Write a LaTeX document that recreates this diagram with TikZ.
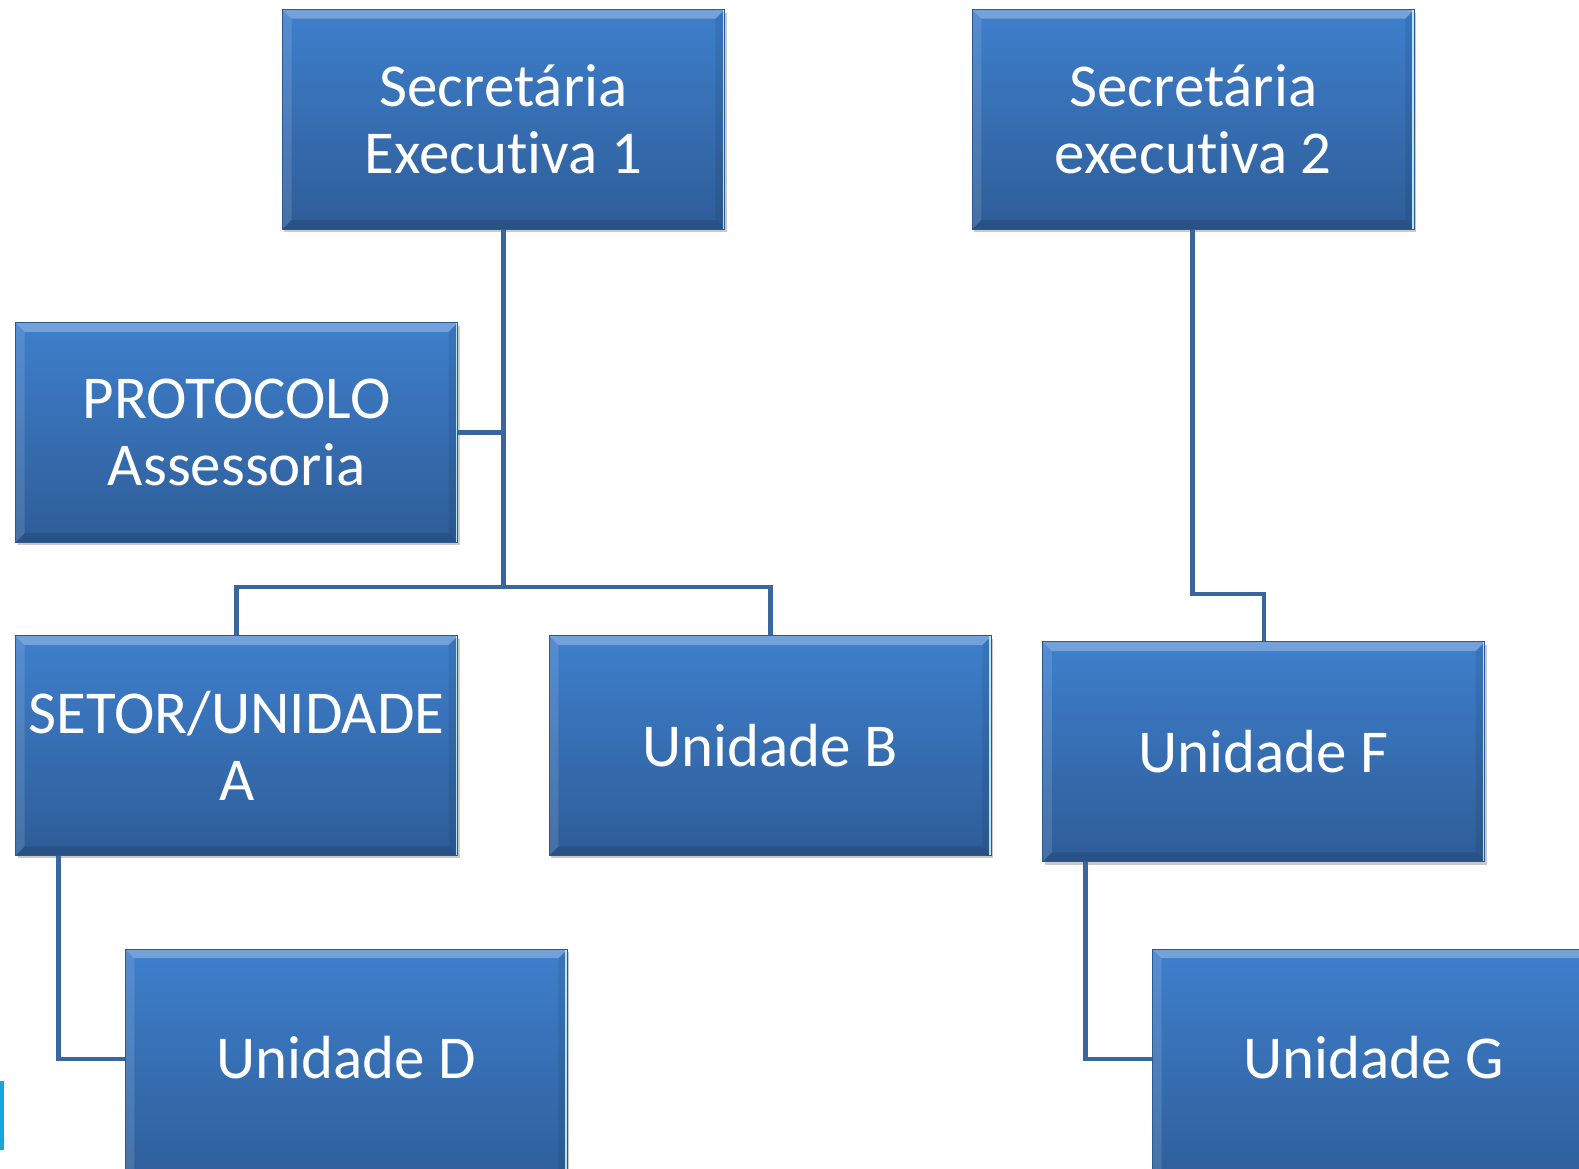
\documentclass[tikz,border=0pt]{standalone}
\usepackage{fontspec}
\setmainfont[RawFeature={-liga;-dlig}]{Carlito}
\usetikzlibrary{shadows}
\definecolor{boxtop}{RGB}{62,127,204}
\definecolor{boxbot}{RGB}{46,93,152}
\definecolor{boxedge}{RGB}{44,88,145}
\definecolor{linecol}{RGB}{58,102,160}
\definecolor{cyanbar}{RGB}{26,165,218}
\tikzset{
  orgbox/.style={rectangle, minimum width=439pt, minimum height=218pt,
    inner sep=0pt, anchor=north west, text=white, align=center,
    font=\fontsize{60.5}{67}\selectfont,
    top color=boxtop, bottom color=boxbot, draw=boxedge, line width=1pt,
    drop shadow={shadow xshift=2pt, shadow yshift=-3pt, opacity=0.35, fill=black!60},
    path picture={
      \fill[white,opacity=0.28] (path picture bounding box.north west) -- (path picture bounding box.north east)
        -- ([xshift=-9pt,yshift=-9pt]path picture bounding box.north east) -- ([xshift=9pt,yshift=-9pt]path picture bounding box.north west) -- cycle;
      \fill[white,opacity=0.12] (path picture bounding box.north west) -- ([xshift=9pt,yshift=-9pt]path picture bounding box.north west)
        -- ([xshift=9pt,yshift=9pt]path picture bounding box.south west) -- (path picture bounding box.south west) -- cycle;
      \fill[black,opacity=0.12] (path picture bounding box.south west) -- (path picture bounding box.south east)
        -- ([xshift=-9pt,yshift=9pt]path picture bounding box.south east) -- ([xshift=9pt,yshift=9pt]path picture bounding box.south west) -- cycle;
      \fill[black,opacity=0.08] (path picture bounding box.north east) -- ([xshift=-9pt,yshift=-9pt]path picture bounding box.north east)
        -- ([xshift=-9pt,yshift=9pt]path picture bounding box.south east) -- (path picture bounding box.south east) -- cycle;
      \draw[white!70!cyan,line width=2pt] ([xshift=-1pt]path picture bounding box.north east) -- ([xshift=-1pt]path picture bounding box.south east);
    }},
  tallbox/.style={orgbox, minimum height=240pt},
  conn/.style={draw=linecol, line width=4.5pt, line join=miter}
}
\begin{document}
\begin{tikzpicture}[x=1pt,y=-1pt]
\useasboundingbox (0,0) rectangle (1568,1160);
\clip (0,0) rectangle (1568,1160);
\fill[white] (0,0) rectangle (1568,1160);
\coordinate (j1) at (500,583);
\coordinate (j2) at (1184,590);
\node[orgbox] (se1) at (280,9) {Secretária\\Executiva 1};
\node[orgbox] (se2) at (965,9) {Secretária\\executiva 2};
\node[orgbox] (prot) at (15,320) {PROTOCOLO\\Assessoria};
\node[orgbox] (seta) at (15,631) {SETOR/UNIDADE\\A};
\node[orgbox] (ub) at (545,631) {Unidade B};
\node[orgbox] (uf) at (1035,637) {Unidade F};
\node[tallbox] (ud) at (124,942) {\raisebox{-8pt}[0pt][0pt]{Unidade D}};
\node[tallbox] (ug) at (1144,942) {\raisebox{-8pt}[0pt][0pt]{Unidade G}};
\draw[conn] (se1.south) -- (j1);
\draw[conn] (prot.east) -- (prot.east -| j1);
\draw[conn] (seta.north) |- (j1) -| (ub.north);
\draw[conn] (j2 |- se2.south) -- (j2) -| (uf.north);
\draw[conn] ([xshift=43pt]seta.south west) |- ([yshift=11pt]ud.west);
\draw[conn] ([xshift=43pt]uf.south west) |- ([yshift=11pt]ug.west);
\fill[cyanbar] (0,1073) rectangle (4,1142);
\end{tikzpicture}
\end{document}
